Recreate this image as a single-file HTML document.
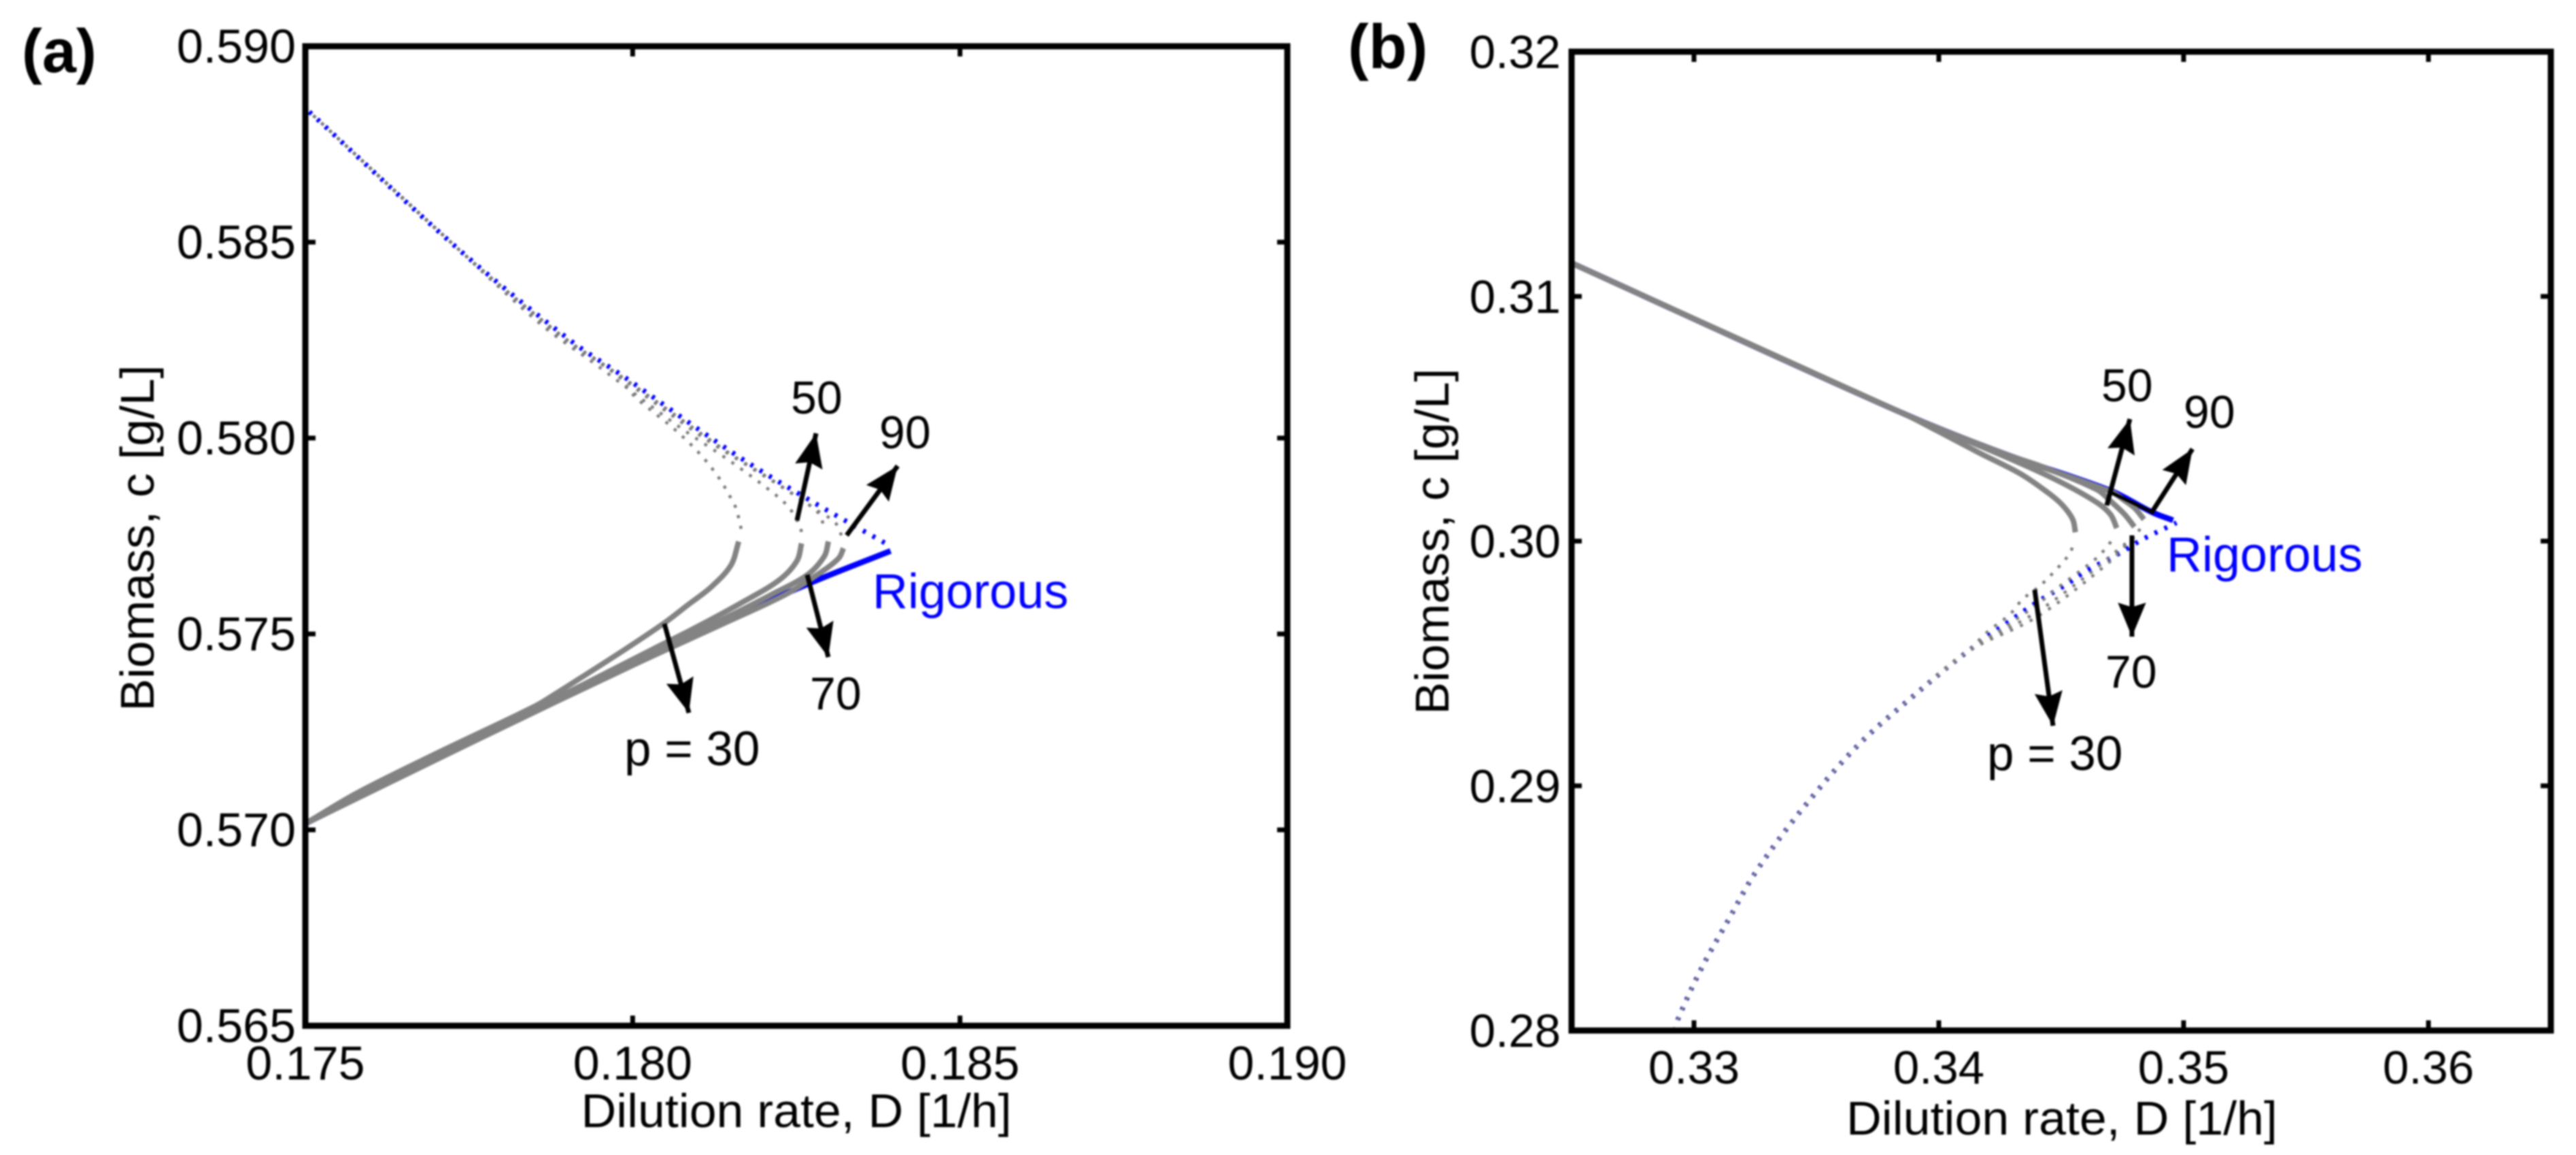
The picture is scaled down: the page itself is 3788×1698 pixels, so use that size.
<!DOCTYPE html>
<html lang="en">
<head>
<meta charset="utf-8">
<title>Biomass vs dilution rate</title>
<style>
html,body{margin:0;padding:0;background:#fff;}
#figure{display:block;width:3788px;height:1698px;filter:blur(1.2px);font-family:"Liberation Sans",sans-serif;}
text{font-family:"Liberation Sans",sans-serif;fill:#000;}
</style>
</head>
<body>
<svg id="figure" xmlns="http://www.w3.org/2000/svg" width="3788" height="1698" viewBox="0 0 3788 1698">
  <rect x="0" y="0" width="3788" height="1698" fill="#fff"/>
  <defs>
    <marker id="arrow-head" markerUnits="userSpaceOnUse" markerWidth="50" markerHeight="42" refX="46" refY="19" orient="auto" viewBox="0 0 46 38">
      <path d="M0 0 L46 19 L0 38 L6 19 Z" fill="#000"/>
    </marker>
  </defs>

  <g id="panel-a">
    <g id="curves-a"></g>
    <g id="ticks-a"></g>
    <rect x="449" y="68" width="1444" height="1440" fill="none" stroke="#000" stroke-width="9"/>
    <text x="32" y="106" font-size="90" font-weight="700">(a)</text>
    <text x="1171" y="1657" font-size="70" text-anchor="middle" textLength="633" lengthAdjust="spacingAndGlyphs">Dilution rate, D [1/h]</text>
    <text transform="translate(226,791) rotate(-90)" font-size="70" text-anchor="middle" textLength="509" lengthAdjust="spacingAndGlyphs">Biomass, c [g/L]</text>
    <g stroke="#000" stroke-width="7" fill="none">
      <line x1="977" y1="917" x2="1013" y2="1048" marker-end="url(#arrow-head)"/>
      <line x1="1187" y1="845" x2="1218" y2="966" marker-end="url(#arrow-head)"/>
      <line x1="1172" y1="765" x2="1200" y2="637" marker-end="url(#arrow-head)"/>
      <line x1="1245" y1="787" x2="1320" y2="685" marker-end="url(#arrow-head)"/>
    </g>
    <text x="1163" y="608" font-size="68">50</text>
    <text x="1293" y="659" font-size="68">90</text>
    <text x="1191" y="1043" font-size="68">70</text>
    <text x="918" y="1125" font-size="71">p = 30</text>
    <text x="1283" y="894" font-size="72" style="fill:#0000ff">Rigorous</text>
  </g>

  <g id="panel-b">
    <g id="curves-b"></g>
    <g id="ticks-b"></g>
    <rect x="2311" y="76" width="1440" height="1439" fill="none" stroke="#000" stroke-width="9"/>
    <text x="1982" y="100" font-size="92" font-weight="700">(b)</text>
    <text x="3032" y="1668" font-size="70" text-anchor="middle" textLength="634" lengthAdjust="spacingAndGlyphs">Dilution rate, D [1/h]</text>
    <text transform="translate(2130,796) rotate(-90)" font-size="70" text-anchor="middle" textLength="509" lengthAdjust="spacingAndGlyphs">Biomass, c [g/L]</text>
    <line x1="3100" y1="722" x2="3163" y2="752" stroke="#000" stroke-width="5"/>
    <g stroke="#000" stroke-width="7" fill="none">
      <line x1="2992" y1="867" x2="3019" y2="1067" marker-end="url(#arrow-head)"/>
      <line x1="3135" y1="787" x2="3135" y2="936" marker-end="url(#arrow-head)"/>
      <line x1="3098" y1="743" x2="3132" y2="616" marker-end="url(#arrow-head)"/>
      <line x1="3163" y1="755" x2="3224" y2="660" marker-end="url(#arrow-head)"/>
    </g>
    <text x="3090" y="590" font-size="68">50</text>
    <text x="3211" y="629" font-size="68">90</text>
    <text x="3096" y="1011" font-size="68">70</text>
    <text x="2922" y="1132" font-size="71">p = 30</text>
    <text x="3186" y="840" font-size="72" style="fill:#0000ff">Rigorous</text>
  </g>
</svg>

<script>
// ---------- Tick values and labels ----------
const aXTicks = [0.175, 0.180, 0.185, 0.190];
const aXTickLabels = ["0.175", "0.180", "0.185", "0.190"];
const aYTicks = [0.565, 0.570, 0.575, 0.580, 0.585, 0.590];
const aYTickLabels = ["0.565", "0.570", "0.575", "0.580", "0.585", "0.590"];
const bXTicks = [0.33, 0.34, 0.35, 0.36];
const bXTickLabels = ["0.33", "0.34", "0.35", "0.36"];
const bYTicks = [0.28, 0.29, 0.30, 0.31, 0.32];
const bYTickLabels = ["0.28", "0.29", "0.30", "0.31", "0.32"];

// ---------- Panel (a) series ----------
const aRigorousStableD = [0.175, 0.17787, 0.18076, 0.18267, 0.18394];
const aRigorousStableC = [0.57016, 0.57255, 0.57484, 0.57627, 0.57712];
const aRigorousUnstableD = [0.18394, 0.18272, 0.18156, 0.17989, 0.17905, 0.17736, 0.175];
const aRigorousUnstableC = [0.57724, 0.5784, 0.57959, 0.58154, 0.58249, 0.58479, 0.58842];

const aP30StableD = [0.18162, 0.1815, 0.1812, 0.18085, 0.1805, 0.17985, 0.17917, 0.1788, 0.1785, 0.177, 0.1758, 0.175];
const aP30StableC = [0.57736, 0.57675, 0.5762, 0.57575, 0.5753, 0.57457, 0.57384, 0.57345, 0.57315, 0.57195, 0.57095, 0.57016];
const aP30UnstableD = [0.18166, 0.18158, 0.1815, 0.18132, 0.18103, 0.18065, 0.18028, 0.18002, 0.17975, 0.179, 0.178, 0.17736, 0.175];
const aP30UnstableC = [0.57767, 0.5782, 0.57847, 0.57898, 0.57959, 0.58021, 0.58071, 0.58108, 0.58163, 0.5825, 0.5838, 0.58479, 0.58842];

const aP50StableD = [0.18258, 0.18251, 0.18225, 0.18172, 0.18097, 0.18033, 0.179, 0.1775, 0.1755, 0.175];
const aP50StableC = [0.57731, 0.57687, 0.57639, 0.57585, 0.57517, 0.57463, 0.5735, 0.57225, 0.5706, 0.57016];
const aP50UnstableD = [0.18259, 0.18256, 0.1824, 0.18216, 0.1815, 0.1807, 0.1795, 0.1786, 0.17736, 0.175];
const aP50UnstableC = [0.57747, 0.57772, 0.5782, 0.57858, 0.5794, 0.5803, 0.5818, 0.5829, 0.58479, 0.58842];

const aP70StableD = [0.18299, 0.18293, 0.18267, 0.18214, 0.18129, 0.18, 0.1775, 0.175];
const aP70StableC = [0.57736, 0.57699, 0.57651, 0.57602, 0.5753, 0.57425, 0.5722, 0.57016];
const aP70UnstableD = [0.18294, 0.18283, 0.1824, 0.1818, 0.181, 0.1796, 0.1788, 0.17736, 0.175];
const aP70UnstableC = [0.57764, 0.5781, 0.57862, 0.57925, 0.5801, 0.5818, 0.5827, 0.58479, 0.58842];

const aP90StableD = [0.18322, 0.18315, 0.18288, 0.18235, 0.1815, 0.18, 0.1775, 0.175];
const aP90StableC = [0.57719, 0.57694, 0.57658, 0.57602, 0.57535, 0.5742, 0.5722, 0.57016];
const aP90UnstableD = [0.18322, 0.1831, 0.18282, 0.1822, 0.1814, 0.1798, 0.179, 0.17736, 0.175];
const aP90UnstableC = [0.57736, 0.57783, 0.57815, 0.57885, 0.5797, 0.5816, 0.5825, 0.58479, 0.58842];

// ---------- Panel (b) series ----------
const bRigorousStableD = [0.325, 0.33854, 0.34278, 0.34702, 0.34871, 0.34957];
const bRigorousStableC = [0.31136, 0.30522, 0.30353, 0.30206, 0.30118, 0.30085];
const bRigorousUnstableD = [0.34971, 0.3483, 0.34752, 0.34597, 0.34525, 0.34413, 0.343, 0.34115, 0.33909, 0.33668, 0.33432, 0.33252, 0.33141, 0.3303, 0.32936, 0.32922];
const bRigorousUnstableC = [0.30075, 0.30006, 0.29958, 0.29875, 0.29825, 0.29758, 0.29681, 0.29547, 0.29378, 0.29164, 0.28892, 0.28647, 0.28453, 0.28253, 0.2805, 0.28];

const bP30StableD = [0.34558, 0.34547, 0.34505, 0.34447, 0.34334, 0.34164, 0.33995, 0.33854, 0.325];
const bP30StableC = [0.30036, 0.30089, 0.30147, 0.30197, 0.30275, 0.30361, 0.3045, 0.30522, 0.31136];
const bP30UnstableD = [0.34554, 0.34533, 0.34476, 0.34413, 0.34342, 0.3429, 0.342, 0.34115, 0.33909, 0.33668, 0.33432, 0.33252, 0.33141, 0.3303, 0.32936, 0.32922];
const bP30UnstableC = [0.29997, 0.29947, 0.2988, 0.29817, 0.29762, 0.297, 0.2963, 0.29547, 0.29378, 0.29164, 0.28892, 0.28647, 0.28453, 0.28253, 0.2805, 0.28];

const bP50StableD = [0.34727, 0.34702, 0.34647, 0.34492, 0.34278, 0.33854, 0.325];
const bP50StableC = [0.30053, 0.30108, 0.30157, 0.30244, 0.30342, 0.30522, 0.31136];
const bP50UnstableD = [0.34716, 0.34688, 0.34647, 0.3458, 0.345, 0.344, 0.343, 0.34115, 0.33909, 0.33668, 0.33432, 0.33252, 0.33141, 0.3303, 0.32936, 0.32922];
const bP50UnstableC = [0.30017, 0.29978, 0.29933, 0.2988, 0.2982, 0.2974, 0.2967, 0.29547, 0.29378, 0.29164, 0.28892, 0.28647, 0.28453, 0.28253, 0.2805, 0.28];

const bP70StableD = [0.34799, 0.3476, 0.347, 0.34647, 0.3442, 0.34278, 0.33854, 0.325];
const bP70StableC = [0.30058, 0.30108, 0.30165, 0.3021, 0.30305, 0.30353, 0.30522, 0.31136];
const bP70UnstableD = [0.34816, 0.34752, 0.3468, 0.3458, 0.344, 0.34115, 0.33909, 0.33668, 0.33432, 0.33252, 0.33141, 0.3303, 0.32936, 0.32922];
const bP70UnstableC = [0.3003, 0.29981, 0.2992, 0.2984, 0.2971, 0.29547, 0.29378, 0.29164, 0.28892, 0.28647, 0.28453, 0.28253, 0.2805, 0.28];

const bP90StableD = [0.34838, 0.348, 0.3476, 0.34702, 0.34278, 0.33854, 0.325];
const bP90StableC = [0.30089, 0.30135, 0.30165, 0.30203, 0.30353, 0.30522, 0.31136];
const bP90UnstableD = [0.3483, 0.3478, 0.3468, 0.344, 0.34115, 0.33909, 0.33668, 0.33432, 0.33252, 0.33141, 0.3303, 0.32936, 0.32922];
const bP90UnstableC = [0.30058, 0.3, 0.299, 0.2969, 0.29547, 0.29378, 0.29164, 0.28892, 0.28647, 0.28453, 0.28253, 0.2805, 0.28];

// ---------- Axis functions ----------
const SVGNS = "http://www.w3.org/2000/svg";
function linear(d0, d1, r0, r1) {
  return function (v) { return r0 + (v - d0) / (d1 - d0) * (r1 - r0); };
}
const aX = linear(0.175, 0.190, 449, 1893);
const aY = linear(0.590, 0.565, 68, 1508);
const bX = linear(0.325, 0.365, 2311, 3751);
const bY = linear(0.32, 0.28, 76, 1515);

// Smooth path through the data points, tangent limited by segment length.
function curvePath(xs, ys, sx, sy) {
  const p = xs.map(function (d, i) { return [sx(d), sy(ys[i])]; });
  let out = "M" + p[0][0].toFixed(1) + " " + p[0][1].toFixed(1);
  function tangent(i) {
    const a = p[Math.max(i - 1, 0)], b = p[Math.min(i + 1, p.length - 1)];
    const dx = b[0] - a[0], dy = b[1] - a[1], l = Math.hypot(dx, dy) || 1;
    return [dx / l, dy / l];
  }
  for (let i = 0; i < p.length - 1; i++) {
    const seg = Math.hypot(p[i + 1][0] - p[i][0], p[i + 1][1] - p[i][1]) / 3;
    const t0 = tangent(i), t1 = tangent(i + 1);
    out += " C" + (p[i][0] + t0[0] * seg).toFixed(1) + " " + (p[i][1] + t0[1] * seg).toFixed(1) +
      " " + (p[i + 1][0] - t1[0] * seg).toFixed(1) + " " + (p[i + 1][1] - t1[1] * seg).toFixed(1) +
      " " + p[i + 1][0].toFixed(1) + " " + p[i + 1][1].toFixed(1);
  }
  return out;
}

function drawSolid(parent, xs, ys, sx, sy, color, width) {
  const el = document.createElementNS(SVGNS, "path");
  el.setAttribute("d", curvePath(xs, ys, sx, sy));
  el.setAttribute("fill", "none");
  el.setAttribute("stroke", color);
  el.setAttribute("stroke-width", width);
  parent.appendChild(el);
  return el;
}

// Dotted branches are stroked from the far (shared) end so the dots of all curves
// coincide where the curves overlap and separate only where they fan out.
function drawDotted(parent, xs, ys, sx, sy, color, width, offset) {
  const el = document.createElementNS(SVGNS, "path");
  el.setAttribute("d", curvePath(xs.slice().reverse(), ys.slice().reverse(), sx, sy));
  el.setAttribute("fill", "none");
  el.setAttribute("stroke", color);
  el.setAttribute("stroke-width", width);
  el.setAttribute("stroke-dasharray", "4.5 11.5");
  el.setAttribute("stroke-dashoffset", offset);
  parent.appendChild(el);
  return el;
}

const BLUE = "#0000ff", GRAY = "#838383", GRAYDOT = "#7a7a7a";
let el;
const gA = document.getElementById("curves-a");
const gB = document.getElementById("curves-b");

// Panel (a) marks
el = drawDotted(gA, aRigorousUnstableD, aRigorousUnstableC, aX, aY, BLUE, 7, 8);


el = drawSolid(gA, aRigorousStableD, aRigorousStableC, aX, aY, BLUE, 8.5);


el = drawDotted(gA, aP30UnstableD, aP30UnstableC, aX, aY, GRAYDOT, 4.5, 0);


el = drawDotted(gA, aP50UnstableD, aP50UnstableC, aX, aY, GRAYDOT, 4.5, 0);


el = drawDotted(gA, aP70UnstableD, aP70UnstableC, aX, aY, GRAYDOT, 4.5, 0);


el = drawDotted(gA, aP90UnstableD, aP90UnstableC, aX, aY, GRAYDOT, 4.5, 0);


el = drawSolid(gA, aP30StableD, aP30StableC, aX, aY, GRAY, 8);


el = drawSolid(gA, aP50StableD, aP50StableC, aX, aY, GRAY, 8);


el = drawSolid(gA, aP70StableD, aP70StableC, aX, aY, GRAY, 8);


el = drawSolid(gA, aP90StableD, aP90StableC, aX, aY, GRAY, 8);



// Panel (b) marks
el = drawDotted(gB, bRigorousUnstableD, bRigorousUnstableC, bX, bY, BLUE, 7, 0);


el = drawSolid(gB, bRigorousStableD, bRigorousStableC, bX, bY, BLUE, 8.5);


el = drawDotted(gB, bP30UnstableD, bP30UnstableC, bX, bY, GRAYDOT, 4.5, 0);


el = drawDotted(gB, bP50UnstableD, bP50UnstableC, bX, bY, GRAYDOT, 4.5, 0);


el = drawDotted(gB, bP70UnstableD, bP70UnstableC, bX, bY, GRAYDOT, 4.5, 0);


el = drawDotted(gB, bP90UnstableD, bP90UnstableC, bX, bY, GRAYDOT, 4.5, 0);


el = drawSolid(gB, bP30StableD, bP30StableC, bX, bY, GRAY, 8);


el = drawSolid(gB, bP50StableD, bP50StableC, bX, bY, GRAY, 8);


el = drawSolid(gB, bP70StableD, bP70StableC, bX, bY, GRAY, 8);


el = drawSolid(gB, bP90StableD, bP90StableC, bX, bY, GRAY, 8);



// ---------- Ticks ----------
function tickLine(parent, x1, y1, x2, y2) {
  const t = document.createElementNS(SVGNS, "line");
  t.setAttribute("x1", x1);
  t.setAttribute("y1", y1);
  t.setAttribute("x2", x2);
  t.setAttribute("y2", y2);
  t.setAttribute("stroke", "#000");
  t.setAttribute("stroke-width", 7);
  
  
  parent.appendChild(t);
}
function tickText(parent, x, y, str, anchor, size) {
  const t = document.createElementNS(SVGNS, "text");
  t.setAttribute("x", x);
  t.setAttribute("y", y);
  t.setAttribute("text-anchor", anchor);
  t.setAttribute("font-size", size);
  t.textContent = str;
  
  
  parent.appendChild(t);
}
function drawAxes(parent, xTicks, xLabels, yTicks, yLabels, sx, sy, left, right, top, bottom, xBase, yRight, size) {
  const len = 15;
  xTicks.forEach(function (v, i) {
    const x = sx(v);
    if (x > left + 5 && x < right - 5) {
      tickLine(parent, x, bottom, x, bottom - len);
      tickLine(parent, x, top, x, top + len);
    }
    tickText(parent, x, xBase, xLabels[i], "middle", size);
  });
  yTicks.forEach(function (v, i) {
    const y = sy(v);
    if (y > top + 5 && y < bottom - 5) {
      tickLine(parent, left, y, left + len, y);
      tickLine(parent, right, y, right - len, y);
    }
    tickText(parent, yRight, y + 24, yLabels[i], "end", size);
  });
}
drawAxes(document.getElementById("ticks-a"), aXTicks, aXTickLabels, aYTicks, aYTickLabels, aX, aY, 449, 1893, 68, 1508, 1587, 435, 70);
drawAxes(document.getElementById("ticks-b"), bXTicks, bXTickLabels, bYTicks, bYTickLabels, bX, bY, 2311, 3751, 76, 1515, 1593, 2295, 69);
</script>
</body>
</html>
